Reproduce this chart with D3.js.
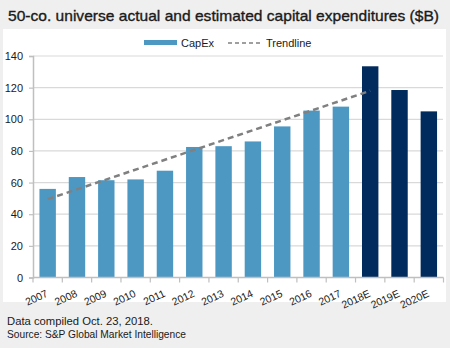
<!DOCTYPE html>
<html>
<head>
<meta charset="utf-8">
<script src="https://cdn.jsdelivr.net/npm/d3@7"></script>
<style>
  body { margin: 0; background: #efefef; }
  svg { display: block; font-family: "Liberation Sans", Arial, sans-serif; }
</style>
</head>
<body>
<div id="chart"></div>
<script>
// chart data
const years = ["2007", "2008", "2009", "2010", "2011", "2012", "2013", "2014",
               "2015", "2016", "2017", "2018E", "2019E", "2020E"];
const capex = [56, 63.5, 61.5, 62, 67.5, 82.5, 83, 86, 95.5, 105.5, 108, 133.5, 118.5, 105];
const estimated = ["2018E", "2019E", "2020E"];
const trendYears = ["2007", "2018E"];
const trendValues = [49.5, 118];
const yTicks = [0, 20, 40, 60, 80, 100, 120, 140];

const W = 450, H = 348;

const svg = d3.select("#chart").append("svg")
  .attr("width", W)
  .attr("height", H);

svg.append("rect").attr("width", W).attr("height", H).attr("fill", "#efefef");
// white chart panel
svg.append("rect")
  .attr("x", 3).attr("y", 29)
  .attr("width", 443).attr("height", 273)
  .attr("fill", "#fff");

// fit a text into a width: shrink if too wide, stretch a little if narrow
function fitText(sel, target, size) {
  sel.attr("font-size", size);
  let w = sel.node().getComputedTextLength();
  if (w > target) {
    size = size * target / w;
    sel.attr("font-size", size);
    w = sel.node().getComputedTextLength();
  }
  if (w < target) sel.attr("textLength", target).attr("lengthAdjust", "spacingAndGlyphs");
}

const title = svg.append("text")
  .attr("x", 8).attr("y", 21)
  .attr("font-family", "'Liberation Sans Narrow', 'Liberation Sans', Arial, sans-serif")
  .attr("fill", "#1a1a1a")
  .attr("stroke", "#1a1a1a")
  .attr("stroke-width", 0.35)
  .text("50-co. universe actual and estimated capital expenditures ($B)");
fitText(title, 431, 16);

const x = d3.scaleBand()
  .domain(years)
  .range([33, 443.5])
  .paddingInner(0.44)
  .paddingOuter(0.22);

const y = d3.scaleLinear()
  .domain([0, 140])
  .range([277.5, 56]);

// gridlines
svg.append("g")
  .selectAll("line")
  .data(yTicks.filter(d => d > 0))
  .join("line")
  .attr("x1", 33).attr("x2", 443)
  .attr("y1", d => y(d)).attr("y2", d => y(d))
  .attr("stroke", "#d9d9d9")
  .attr("stroke-width", 1.2);

// bars
const data = years.map((yr, i) => ({year: yr, value: capex[i]}));
svg.append("g")
  .selectAll("rect")
  .data(data)
  .join("rect")
  .attr("x", d => x(d.year))
  .attr("y", d => y(d.value))
  .attr("width", x.bandwidth())
  .attr("height", d => y(0) - y(d.value))
  .attr("fill", d => estimated.includes(d.year) ? "#002b5c" : "#4d98c3");

// trendline
const line = d3.line()
  .x(d => x(d[0]) + x.bandwidth() / 2)
  .y(d => y(d[1]));
svg.append("path")
  .datum(trendYears.map((t, i) => [t, trendValues[i]]))
  .attr("d", line)
  .attr("fill", "none")
  .attr("stroke", "#808080")
  .attr("stroke-width", 2.5)
  .attr("stroke-dasharray", "6,4");

// y axis
const yAxis = svg.append("g")
  .attr("transform", "translate(33,0)")
  .call(d3.axisLeft(y).tickValues(yTicks).tickSize(4).tickPadding(6));
yAxis.select(".domain").attr("stroke", "#bfbfbf").attr("stroke-width", 1.5);
yAxis.selectAll(".tick line").attr("stroke", "#bfbfbf").attr("stroke-width", 1.2);
yAxis.selectAll(".tick text")
  .attr("font-size", 11)
  .attr("font-family", "Liberation Sans, Arial, sans-serif")
  .attr("fill", "#1a1a1a");

// x axis line and ticks between categories
const xg = svg.append("g");
xg.append("line")
  .attr("x1", 33).attr("x2", 443.5)
  .attr("y1", y(0)).attr("y2", y(0))
  .attr("stroke", "#bfbfbf").attr("stroke-width", 1.5);
xg.selectAll("line.tk")
  .data(years.concat(["end"]))
  .join("line")
  .attr("class", "tk")
  .attr("x1", (d, i) => 33 + i * (410.5 / years.length))
  .attr("x2", (d, i) => 33 + i * (410.5 / years.length))
  .attr("y1", y(0)).attr("y2", y(0) + 5)
  .attr("stroke", "#bfbfbf").attr("stroke-width", 1.2);

xg.selectAll("text")
  .data(years)
  .join("text")
  .attr("transform", d => `translate(${x(d) + x.bandwidth() / 2 + 1},${y(0) + 18.5}) rotate(-25)`)
  .attr("text-anchor", "end")
  .attr("font-size", 10.5)
  .attr("fill", "#1a1a1a")
  .text(d => d);

// legend
const lg = svg.append("g");
lg.append("rect")
  .attr("x", 144).attr("y", 40)
  .attr("width", 33).attr("height", 5)
  .attr("fill", "#4d98c3");
lg.append("text")
  .attr("x", 181).attr("y", 46.5)
  .attr("font-size", 11).attr("fill", "#1a1a1a")
  .text("CapEx");
lg.append("line")
  .attr("x1", 228).attr("x2", 263)
  .attr("y1", 43).attr("y2", 43)
  .attr("stroke", "#808080").attr("stroke-width", 1.5)
  .attr("stroke-dasharray", "4,3");
lg.append("text")
  .attr("x", 266).attr("y", 46.5)
  .attr("font-size", 11).attr("fill", "#1a1a1a")
  .text("Trendline");

// footer notes
const note1 = svg.append("text")
  .attr("x", 7).attr("y", 325)
  .attr("font-family", "'Liberation Sans Narrow', 'Liberation Sans', Arial, sans-serif")
  .attr("fill", "#1a1a1a")
  .text("Data compiled Oct. 23, 2018.");
fitText(note1, 146, 11.5);
const note2 = svg.append("text")
  .attr("x", 7).attr("y", 338)
  .attr("font-family", "'Liberation Sans Narrow', 'Liberation Sans', Arial, sans-serif")
  .attr("fill", "#1a1a1a")
  .text("Source: S&P Global Market Intelligence");
fitText(note2, 179, 11.5);
</script>
</body>
</html>
